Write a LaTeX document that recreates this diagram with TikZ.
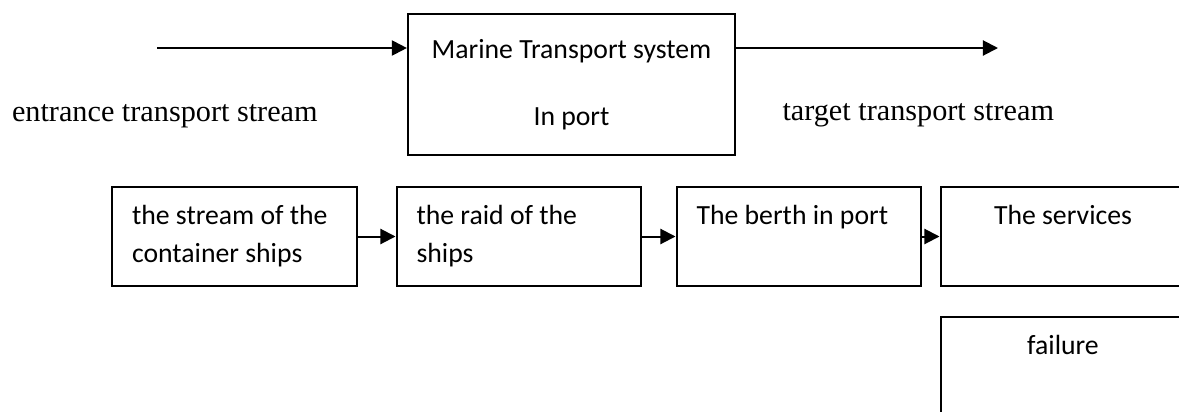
\documentclass[tikz,border=0pt]{standalone}
\usepackage{fontspec}
\setmainfont{Liberation Serif}
\newfontfamily\boxfont{Carlito}
\usetikzlibrary{arrows.meta}
\newcommand{\lefttext}[1]{\parbox[c][24.5pt][t]{81.3pt}{\raggedright #1}}
\newcommand{\midtext}[1]{\parbox[c][24.5pt][t]{81.3pt}{\centering #1}}
\tikzset{
    flowbox/.style={draw, line width=0.8pt, inner xsep=7.9pt, inner ysep=7.4pt,
        minimum width=97.2pt, minimum height=39.3pt,
        font=\boxfont\fontsize{11}{15.1}\selectfont},
    sysbox/.style={draw, line width=0.8pt, minimum width=129.8pt, minimum height=56pt,
        align=center, font=\boxfont\fontsize{11}{26.6}\selectfont},
    streamlabel/.style={font=\fontsize{12}{14}\selectfont, inner sep=0pt},
    flow/.style={-{Triangle[length=6pt,width=6pt]}, line width=0.8pt},
}
\begin{document}
\begin{tikzpicture}[x=0.3968pt, y=-0.3968pt]
        \clip (0,0) rectangle (1179,411);

        \node[sysbox] (sys) at (571.5,84.5) {Marine Transport system\\In port};
        \coordinate (src) at (157,48);
        \coordinate (dst) at (998,48);
        \draw[flow] (src) -- (src -| sys.west);
        \draw[flow] (sys.east |- dst) -- (dst);

        \node[streamlabel, anchor=base west] (entrance) at (11.5,121) {entrance transport stream};
        \node[streamlabel, anchor=base west] (target) at (782,120) {target transport stream};

        \node[flowbox] (stream) at (234.5,236.5) {\lefttext{the stream of the\\container ships}};
        \node[flowbox] (raid) at (519,236.5) {\lefttext{the raid of the\\ships}};
        \node[flowbox] (berth) at (799,236.5) {\lefttext{The berth in port}};
        \node[flowbox] (services) at (1063,236.5) {\midtext{The services}};
        \node[flowbox] (failure) at (1063,366.5) {\midtext{failure}};

        \draw[flow] (stream) -- (raid);
        \draw[flow] (raid) -- (berth);
        \draw[flow] (berth) -- (services);
    \end{tikzpicture}
\end{document}
